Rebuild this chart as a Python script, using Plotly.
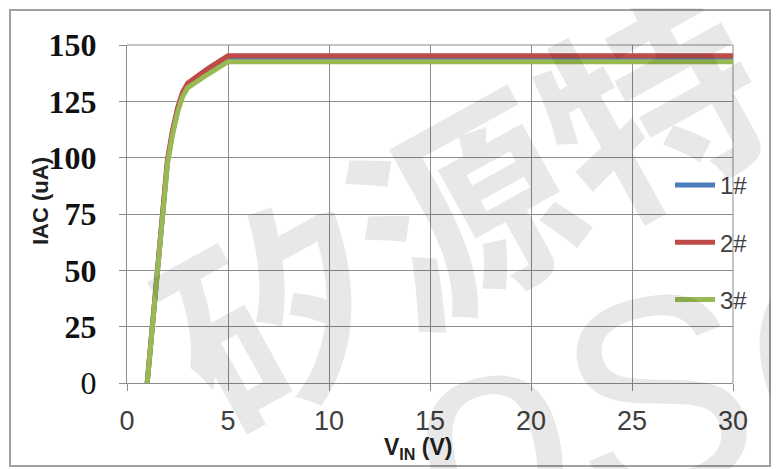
import plotly.graph_objects as go

# ---- data ----
vin = [1.0, 1.25, 1.5, 1.75, 2.0, 2.25, 2.5, 2.75, 3.0, 4.0, 5.0, 10, 15, 20, 25, 30]
iac_1 = [0, 24.5, 49.5, 74.5, 98, 111, 121, 128, 132, 138.5, 144, 144, 144, 144, 144, 144]
iac_2 = [0, 25, 50, 75, 99, 112, 122, 129, 133, 139.5, 145.2, 145.2, 145.2, 145.2, 145.2, 145.2]
iac_3 = [0, 24, 49, 74, 97, 110, 120, 127, 131, 137, 142.6, 142.6, 142.6, 142.6, 142.6, 142.6]
series_names = ["1#", "2#", "3#"]
colors = ["#4a7ebb", "#be4b48", "#98b954"]

x_ticks = [0, 5, 10, 15, 20, 25, 30]
y_ticks = [0, 25, 50, 75, 100, 125, 150]
y_ticktext = ["0", "<b>25</b>", "<b>50</b>", "<b>75</b>", "<b>100</b>", "<b>125</b>", "<b>150</b>"]
x_title = "<b>V<sub>IN</sub> (V)</b>"
y_title = "<b>IAC (uA)</b>"
watermark_cn = "<b>矽源特</b>"
watermark_en = "oSC"

# page has an 8px body margin; the figure is sized so that page == 779x469
OFF = 8
W, H = 779 - OFF, 469 - OFF
# plot-area edges in reference (screen) pixels
PX0, PX1, PY0, PY1 = 127, 733, 45, 383
L, T = PX0 - OFF, PY0 - OFF
R, B = W - (PX1 - OFF), H - (PY1 - OFF)
pw, ph = PX1 - PX0, PY1 - PY0


def px(x):  # screen x -> paper x
    return (x - PX0) / pw


def py(y):  # screen y -> paper y
    return (PY1 - y) / ph


fig = go.Figure()
for name, ys, c in zip(series_names, [iac_1, iac_2, iac_3], colors):
    fig.add_trace(go.Scatter(x=vin, y=ys, name=name, mode="lines",
                             line=dict(color=c, width=5), legendgroup=name))

grid = "#8c8c8c"
narrow = "Liberation Sans Narrow, Liberation Sans, Arial"
fig.update_layout(
    width=W, height=H,
    margin=dict(l=L, r=R, t=T, b=B),
    paper_bgcolor="white", plot_bgcolor="white",
    showlegend=True,
    legend=dict(x=px(670), y=py(163), xanchor="left", yanchor="top",
                bgcolor="rgba(0,0,0,0)", tracegroupgap=23,
                font=dict(family=narrow, size=24, color="#404040"),
                itemwidth=40),
    xaxis=dict(range=[0, 30], tickvals=x_ticks, showgrid=True, gridcolor=grid, gridwidth=1,
               showline=True, linecolor=grid, linewidth=1,
               ticks="outside", ticklen=7, tickcolor=grid, ticklabelstandoff=7,
               zeroline=False,
               tickfont=dict(family=narrow, size=27, color="#404040")),
    yaxis=dict(range=[0, 150], tickvals=y_ticks, ticktext=y_ticktext, showgrid=True,
               gridcolor=grid, gridwidth=1, showline=True, linecolor=grid, linewidth=1,
               ticks="outside", ticklen=7, tickcolor=grid, ticklabelstandoff=16, zeroline=False,
               tickfont=dict(family="Liberation Serif", size=32, color="#111111")),
)

# axis titles
fig.add_annotation(text=x_title, xref="paper", yref="paper", x=px(418), y=py(448),
                   xanchor="center", yanchor="middle", showarrow=False,
                   font=dict(family="Liberation Sans, Arial", size=23, color="#202020"))
fig.add_annotation(text=y_title, xref="paper", yref="paper", x=px(40), y=py(201),
                   xanchor="center", yanchor="middle", showarrow=False, textangle=-90,
                   font=dict(family="Liberation Sans, Arial", size=22, color="#202020"))

# watermark
fig.add_annotation(text=watermark_cn, xref="paper", yref="paper", x=px(458), y=py(200),
                   xanchor="center", yanchor="middle", showarrow=False, textangle=-29,
                   font=dict(family="Noto Sans CJK SC", size=215, color="rgba(0,0,0,0.09)"))
fig.add_annotation(text=watermark_en, xref="paper", yref="paper", x=px(680), y=py(390),
                   xanchor="center", yanchor="middle", showarrow=False, textangle=-12,
                   font=dict(family="Liberation Sans, Arial", size=280, color="rgba(0,0,0,0.09)"))

# outer frame of the picture
fig.add_shape(type="rect", xref="paper", yref="paper",
              x0=px(10), x1=px(770), y0=py(466), y1=py(10),
              line=dict(color="#a0a0a0", width=2), layer="above")
# top and right plot borders
fig.add_shape(type="line", xref="paper", yref="paper", x0=0, x1=1, y0=1, y1=1,
              line=dict(color=grid, width=1), layer="below")
fig.add_shape(type="line", xref="paper", yref="paper", x0=1, x1=1, y0=0, y1=1,
              line=dict(color=grid, width=1), layer="below")

fig.write_html("out.html")
